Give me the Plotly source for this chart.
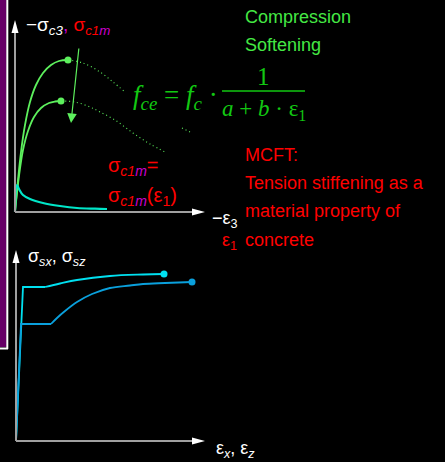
import plotly.graph_objects as go

# Concrete: compression curves (unsoftened / softened), in screen units of the sketch
comp_outer_x = [15, 18, 21, 25, 30, 36, 43, 51, 59, 68]
comp_outer_y = [212, 180, 152, 125, 102, 85, 73, 65, 61, 60]
comp_inner_x = [15, 19, 23, 28, 34, 41, 49, 55, 61]
comp_inner_y = [212, 176, 150, 131, 117, 108, 103, 101.5, 101]
# post-peak (dotted) branches
post_outer_x = [68, 83, 100, 113, 125]
post_outer_y = [60, 63, 72, 82, 92]
post_inner_x = [61, 75, 90, 100, 115, 133, 150, 167]
post_inner_y = [101, 102, 107, 112, 120, 133, 144, 153]
post_tail_x = [182, 190]
post_tail_y = [128, 132]
# Tension stiffening curve
tens_x = [15, 17, 19, 23, 30, 43, 60, 77, 95, 107]
tens_y = [212, 185, 189, 195, 199, 203, 206, 208, 208.7, 209]
# Reinforcement: bare bar and embedded bar (elastic leg + yield plateau, then hardening)
bar_a_x = [16, 23, 45]
bar_a_y = [441, 287, 287]
bar_a_hard_x = [45, 60, 77, 110, 143, 164]
bar_a_hard_y = [287, 283.5, 280, 276, 274.5, 274]
bar_b_x = [16, 21, 51]
bar_b_y = [441, 324, 324]
bar_b_hard_x = [51, 57, 65, 77, 92, 110, 130, 143, 165, 192]
bar_b_hard_y = [324, 318, 311, 302, 294, 288, 285.5, 284, 283, 282]

GREEN = "#5df05d"
TXT_GREEN = "#44e844"
EQ_GREEN = "#12c812"
RED = "#ff0000"
MAG = "#cc00cc"
CYAN = "#00e0f0"
BLUE = "#0aa0dc"
SANS = "Liberation Sans"
SERIF = "Liberation Serif"

fig = go.Figure()

def curve(x, y, color, width=1.8, dash="solid", shape="spline"):
    fig.add_trace(go.Scatter(x=x, y=y, mode="lines",
                             line=dict(color=color, width=width, dash=dash, shape=shape),
                             hoverinfo="skip", showlegend=False))

def dot(x, y, color):
    fig.add_trace(go.Scatter(x=[x], y=[y], mode="markers",
                             marker=dict(color=color, size=7),
                             hoverinfo="skip", showlegend=False))

curve(comp_outer_x, comp_outer_y, GREEN)
curve(comp_inner_x, comp_inner_y, GREEN)
curve(post_outer_x, post_outer_y, GREEN, 1.1, "1px,3px")
curve(post_inner_x, post_inner_y, GREEN, 1.1, "1px,3px")
curve(post_tail_x, post_tail_y, GREEN, 1.1, "1px,3px")
dot(comp_outer_x[-1], comp_outer_y[-1], GREEN)
dot(comp_inner_x[-1], comp_inner_y[-1], GREEN)
curve(tens_x, tens_y, "#00e6c8", 2.2)

curve(bar_a_x, bar_a_y, CYAN, 1.8, shape="linear")
curve(bar_a_hard_x, bar_a_hard_y, CYAN, 1.8)
curve(bar_b_x, bar_b_y, BLUE, 1.8, shape="linear")
curve(bar_b_hard_x, bar_b_hard_y, BLUE, 1.8)
dot(bar_a_hard_x[-1], bar_a_hard_y[-1], CYAN)
dot(bar_b_hard_x[-1], bar_b_hard_y[-1], BLUE)

shapes = [
    # side band
    dict(type="rect", x0=-2, x1=6.5, y0=-2, y1=347, fillcolor="#660066", line_width=0, layer="below"),
    dict(type="line", x0=7.3, x1=7.3, y0=-2, y1=349, line=dict(color="white", width=2)),
    dict(type="line", x0=-2, x1=8, y0=348.5, y1=348.5, line=dict(color="white", width=2)),
    # axes
    dict(type="line", x0=15, x1=15, y0=212, y1=32, line=dict(color="#a0a0a0", width=2)),
    dict(type="line", x0=15, x1=193, y0=212, y1=212, line=dict(color="#a0a0a0", width=2)),
    dict(type="line", x0=16, x1=16, y0=441, y1=261, line=dict(color="#a0a0a0", width=2)),
    dict(type="line", x0=16, x1=193, y0=441, y1=441, line=dict(color="#a0a0a0", width=2)),
    # arrow heads
    dict(type="path", path="M 15 20 L 11.5 33 L 18.5 33 Z", fillcolor="white", line_width=0),
    dict(type="path", path="M 205 212 L 192 208.5 L 192 215.5 Z", fillcolor="white", line_width=0),
    dict(type="path", path="M 16 250 L 12.5 263 L 19.5 263 Z", fillcolor="white", line_width=0),
    dict(type="path", path="M 205 441 L 192 437.5 L 192 444.5 Z", fillcolor="white", line_width=0),
    # fraction bar
    dict(type="line", x0=222, x1=305, y0=91, y1=91, line=dict(color=EQ_GREEN, width=1.5)),
]

def txt(x, y, text, size=18, color="white", family=SANS, anchor="left"):
    return dict(x=x, y=y, xref="x", yref="y", text=text, showarrow=False,
                xanchor=anchor, yanchor="middle",
                font=dict(family=family, size=size, color=color))

annotations = [
    txt(24, 26, "−σ<sub><i>c3</i></sub><span style='color:%s'>,</span> "
                "<span style='color:%s'>σ<sub><i>c1</i><span style='color:%s'><i>m</i></span></sub></span>"
                % (MAG, RED, MAG), 19),
    txt(243, 17, "Compression", 18, TXT_GREEN),
    txt(243, 45, "Softening", 18, TXT_GREEN),
    txt(131, 97, "<i>f</i><sub><i>ce</i></sub> = <i>f</i><sub><i>c</i></sub> ·", 27, EQ_GREEN, SERIF),
    txt(263, 76, "1", 25, EQ_GREEN, SERIF, "center"),
    txt(264, 110, "<i>a</i> + <i>b</i> · ε<sub>1</sub>", 23, EQ_GREEN, SERIF, "center"),
    txt(106, 166, "σ<sub><i>c1</i><span style='color:%s'><i>m</i></span></sub>=" % MAG, 20, RED),
    txt(106, 196, "σ<sub><i>c1</i><span style='color:%s'><i>m</i></span></sub>(ε<sub>1</sub>)" % MAG, 20, RED),
    txt(210, 219, "−ε<sub>3</sub>", 18, "white"),
    txt(220, 241, "ε<sub>1</sub>", 18, RED),
    txt(243, 155, "MCFT:", 18, RED),
    txt(243, 183, "Tension stiffening as a", 18, RED),
    txt(243, 211, "material property of", 18, RED),
    txt(243, 240, "concrete", 18, RED),
    txt(26, 257, "σ<sub><i>sx</i></sub>, σ<sub><i>sz</i></sub>", 18, "white"),
    txt(214, 449, "ε<sub><i>x</i></sub>, ε<sub><i>z</i></sub>", 18, "white"),
    # softening arrow
    dict(x=71, y=123, ax=79, ay=47, xref="x", yref="y", axref="x", ayref="y",
         text="", showarrow=True, arrowhead=2, arrowsize=1.6, arrowwidth=1.2,
         arrowcolor=GREEN),
]

fig.update_layout(
    width=445, height=462, margin=dict(l=0, r=0, t=0, b=0),
    paper_bgcolor="black", plot_bgcolor="black",
    xaxis=dict(range=[0, 445], visible=False, fixedrange=True),
    yaxis=dict(range=[462, 0], visible=False, fixedrange=True),
    shapes=shapes, annotations=annotations, showlegend=False,
)

fig.write_html("out.html")
